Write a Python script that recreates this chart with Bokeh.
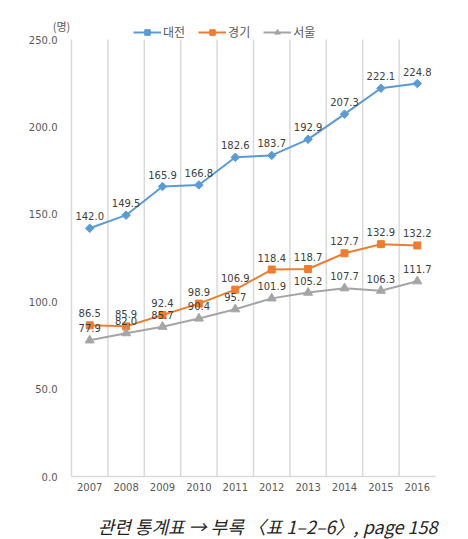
from bokeh.plotting import figure
from bokeh.models import (ColumnDataSource, FixedTicker, NumeralTickFormatter, Legend,
                          LegendItem, Label, LinearAxis)
from bokeh.core.properties import value
from bokeh.embed import file_html
from bokeh.resources import INLINE
import math

years = ["2007", "2008", "2009", "2010", "2011", "2012", "2013", "2014", "2015", "2016"]
daejeon = [142.0, 149.5, 165.9, 166.8, 182.6, 183.7, 192.9, 207.3, 222.1, 224.8]
gyeonggi = [86.5, 85.9, 92.4, 98.9, 106.9, 118.4, 118.7, 127.7, 132.9, 132.2]
seoul = [77.9, 82.0, 85.7, 90.4, 95.7, 101.9, 105.2, 107.7, 106.3, 111.7]
series_names = ["대전", "경기", "서울"]
y_ticks = [0, 50, 100, 150, 200, 250]
unit_label = "(명)"
caption = "관련 통계표 → 부록 〈표 1–2–6〉, page 158"

colors = ["#5B9BD5", "#ED7D31", "#A5A5A5"]
markers = ["square", "square", "triangle"]
marker_sizes = [6, 7, 9]
marker_angles = [math.pi / 4, 0, 0]

W, H = 468, 539
xs = list(range(len(years)))
n = len(years)
y_max = y_ticks[-1]

# plot area in page pixels: left 71, right 435, top 39 (=250), bottom 476 (=0)
px_per_cat = (435 - 71) / n
px_per_unit = (476 - 39) / y_max
x_start = -0.5 - 71 / px_per_cat
x_end = -0.5 + (W - 71) / px_per_cat
y_end = 476 / px_per_unit
y_start = -(H - 476) / px_per_unit

p = figure(width=W, height=H, output_backend="svg", toolbar_location=None,
           x_range=(x_start, x_end), y_range=(y_start, y_end),
           x_axis_location=None, y_axis_location=None,
           min_border_left=0, min_border_right=0, min_border_top=0, min_border_bottom=0)
p.outline_line_color = None
p.background_fill_color = "white"
p.border_fill_color = "white"
p.xgrid.visible = False
p.ygrid.visible = False

# vertical category-boundary grid lines (0 .. 250 only)
bounds_x = [i - 0.5 for i in xs]
p.segment(x0=bounds_x, x1=bounds_x, y0=[0] * n, y1=[y_max] * n,
          line_color="#D9D9D9", line_width=1.5, level="underlay")

yaxis = LinearAxis(fixed_location=-0.5, ticker=FixedTicker(ticks=y_ticks),
                   formatter=NumeralTickFormatter(format="0.0"),
                   axis_line_color=None, major_tick_line_color=None,
                   minor_tick_line_color=None, major_tick_out=0, major_tick_in=0,
                   major_label_standoff=14, major_label_text_font="DejaVu Sans",
                   major_label_text_font_size="10px", major_label_text_color="#595959")
p.add_layout(yaxis, "left")

xaxis = LinearAxis(fixed_location=0, ticker=FixedTicker(ticks=xs),
                   major_label_overrides={i: y for i, y in enumerate(years)},
                   bounds=(-0.5, n - 0.5),
                   axis_line_color="#D9D9D9", axis_line_width=1.5,
                   major_tick_line_color=None, minor_tick_line_color=None,
                   major_tick_out=0, major_tick_in=0, major_label_standoff=6,
                   major_label_text_font="DejaVu Sans", major_label_text_font_size="10px",
                   major_label_text_color="#595959")
p.add_layout(xaxis, "below")

items = []
for name, vals, c, m, s, a in zip(series_names, [daejeon, gyeonggi, seoul], colors,
                                  markers, marker_sizes, marker_angles):
    src = ColumnDataSource(dict(x=xs, y=vals, lab=[f"{v:.1f}" for v in vals]))
    lr = p.line("x", "y", source=src, line_color=c, line_width=2)
    sr = p.scatter("x", "y", source=src, marker=m, size=s, angle=a,
                   fill_color=c, line_color=c)
    p.text("x", "y", text="lab", source=src, text_align="center", text_baseline="middle",
           y_offset=-12, text_font=value("DejaVu Sans"), text_font_size="10px",
           text_color="#404040")
    items.append(LegendItem(label=name, renderers=[lr, sr]))

legend = Legend(items=items, orientation="horizontal", location=(133, 499),
                glyph_width=28, glyph_height=14, label_height=14, label_standoff=2,
                spacing=13, padding=0, margin=0,
                label_text_font="Noto Sans CJK KR", label_text_font_size="12px",
                label_text_color="#595959", background_fill_alpha=0,
                border_line_color=None)
p.add_layout(legend)

p.add_layout(Label(x=61, y=H - 25, x_units="screen", y_units="screen", text=unit_label,
                   text_align="center", text_baseline="middle", text_font="Noto Sans CJK KR",
                   text_font_size="11px", text_color="#595959"))
p.add_layout(Label(x=437, y=H - 525, x_units="screen", y_units="screen", text=caption,
                   text_align="right", text_baseline="middle", text_font="Noto Sans CJK KR",
                   text_font_style="italic", text_font_size="18px", text_color="#262626"))

open("out.html", "w").write(file_html(p, INLINE))
